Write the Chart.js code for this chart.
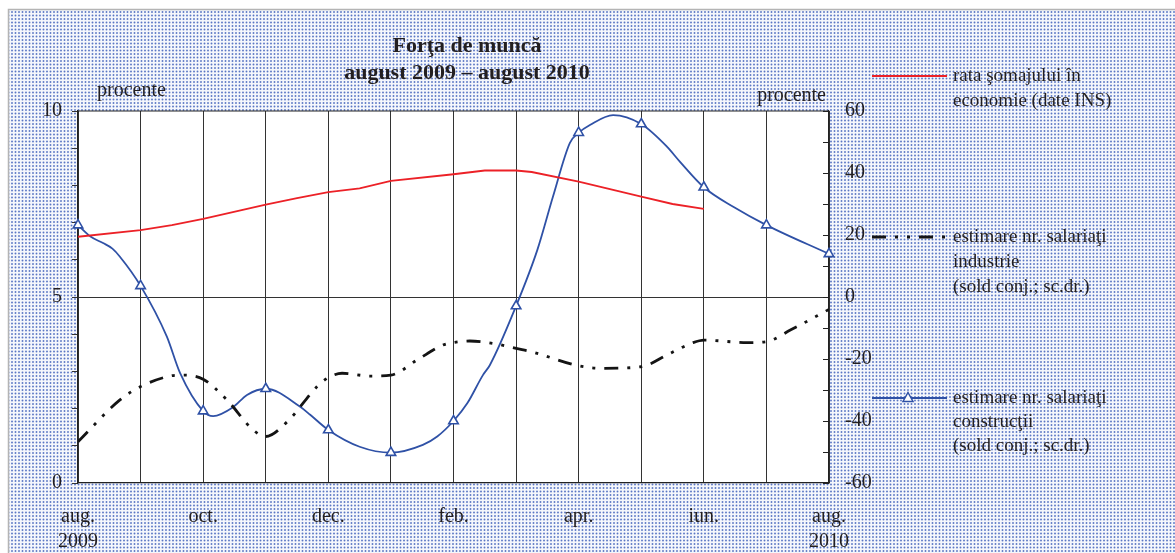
<!DOCTYPE html>
<html>
<head>
<meta charset="utf-8">
<script src="https://cdn.jsdelivr.net/npm/chart.js@4.4.1/dist/chart.umd.min.js"></script>
<style>
  html, body { margin: 0; padding: 0; background: #fff; }
  canvas { display: block; }
</style>
</head>
<body>
<canvas id="chart" width="1175" height="553"></canvas>
<script>
// months since aug. 2009 (0 = aug. 2009, 12 = aug. 2010)
const monthNames = ['aug.', 'sep.', 'oct.', 'nov.', 'dec.', 'ian.', 'feb.', 'mar.', 'apr.', 'mai', 'iun.', 'iul.', 'aug.']
const yearNames = { 0: '2009', 12: '2010' }

// rata somajului (left axis, %)
const somajMonths = [0, 1, 1.5, 2, 3, 3.5, 4, 4.5, 5, 6, 6.5, 7, 7.25, 8, 9, 9.5, 10]
const somajValues = [6.62, 6.8, 6.93, 7.1, 7.48, 7.66, 7.82, 7.92, 8.12, 8.3, 8.4, 8.4, 8.36, 8.1, 7.7, 7.5, 7.37]

// industrie (right axis, sold conjunctural)
const industrieMonths = [0, 0.67, 1, 1.47, 1.68, 2, 2.38, 2.8, 3, 3.34, 3.82, 4, 4.22, 4.67, 5, 5.42, 5.83, 6, 6.26, 6.69, 7, 7.27, 8, 8.39, 9, 9.41, 9.83, 10, 10.69, 11, 11.39, 12]
const industrieValues = [-46.7, -33.2, -28.9, -25.5, -25.2, -26.5, -33.2, -42.9, -45, -40.3, -28.9, -26, -24.6, -25.5, -25.2, -20.3, -15.5, -14.7, -14.2, -15.2, -16.6, -17.8, -22.2, -23, -22.5, -18.7, -14.7, -13.9, -14.7, -14.4, -10.6, -4]

// constructii (right axis, sold conjunctural)
const constructiiMonths = [0, 0.2, 0.4, 0.55, 0.67, 1, 1.42, 1.63, 2, 2.16, 2.48, 2.7, 3, 3.55, 3.71, 4, 4.5, 5, 5.51, 5.74, 6, 6.22, 6.47, 6.58, 7, 7.34, 7.59, 7.86, 8, 8.18, 8.55, 9, 9.41, 9.62, 10, 10.47, 11, 12]
const constructiiValues = [23.2, 19.5, 17.4, 15.6, 13, 3.6, -12.8, -24.5, -36.8, -38.4, -35.5, -31.6, -29.6, -35.4, -38, -42.9, -48.3, -50.2, -47.7, -45, -40, -34.3, -25.2, -22, -2.9, 15.2, 32.4, 49.7, 53, 55.5, 58.7, 55.8, 48.5, 43.6, 35.4, 29.1, 23.2, 13.9]

const RED = '#ec2127'
const BLUE = '#2f51a6'
const BLACK = '#141414'
const TEXT = '#231f20'
const SERIF = '"Liberation Serif", "Times New Roman", serif'
const DASH = [14, 9, 3, 9, 3, 9]

const toPoints = (xs, ys) => xs.map((x, i) => ({ x: x, y: ys[i] }))

function dotPattern(ctx) {
    const tile = document.createElement('canvas')
    tile.width = 7
    tile.height = 7
    const t = tile.getContext('2d')
    t.fillStyle = '#f5f7fc'
    t.fillRect(0, 0, 7, 7)
    t.fillStyle = '#5b77c4'
    for (const [px, py] of [[1.5, 1.5], [5, 1.5], [1.5, 5], [5, 5]]) {
        t.beginPath()
        t.arc(px, py, 0.95, 0, Math.PI * 2)
        t.fill()
    }
    return ctx.createPattern(tile, 'repeat')
}

function legendLine(ctx, y, color, width, dash) {
    ctx.save()
    ctx.strokeStyle = color
    ctx.lineWidth = width
    ctx.setLineDash(dash)
    ctx.beginPath()
    ctx.moveTo(872, y)
    ctx.lineTo(947, y)
    ctx.stroke()
    ctx.restore()
}

function textLines(ctx, lines, x, y, step) {
    lines.forEach((s, i) => ctx.fillText(s, x, y + i * step))
}

const decor = {
    id: 'decor',
    beforeDraw(chart) {
        const ctx = chart.ctx
        const a = chart.chartArea
        const W = chart.width, H = chart.height
        ctx.save()
        ctx.fillStyle = '#fff'
        ctx.fillRect(0, 0, W, H)
        ctx.fillStyle = dotPattern(ctx)
        ctx.fillRect(9, 10, W - 9, H - 10)
        ctx.strokeStyle = '#b4b4b4'
        ctx.lineWidth = 1.5
        ctx.beginPath()
        ctx.moveTo(8.5, H)
        ctx.lineTo(8.5, 9.5)
        ctx.lineTo(W, 9.5)
        ctx.stroke()
        ctx.fillStyle = '#fff'
        ctx.fillRect(a.left, a.top, a.right - a.left, a.bottom - a.top)
        ctx.restore()
    },
    beforeDatasetsDraw(chart) {
        const ctx = chart.ctx
        const a = chart.chartArea
        const y2 = chart.scales.y2
        ctx.save()
        ctx.strokeStyle = '#222'
        ctx.lineWidth = 1.2
        // top border
        ctx.beginPath()
        ctx.moveTo(a.left, a.top)
        ctx.lineTo(a.right, a.top)
        ctx.stroke()
        // right axis ticks, drawn inward
        ctx.lineWidth = 1
        y2.ticks.forEach(t => {
            const py = Math.round(y2.getPixelForValue(t.value)) + 0.5
            ctx.beginPath()
            ctx.moveTo(a.right - 6, py)
            ctx.lineTo(a.right, py)
            ctx.stroke()
        })
        ctx.restore()
    },
    afterDraw(chart) {
        const ctx = chart.ctx
        ctx.save()
        ctx.fillStyle = TEXT
        ctx.textBaseline = 'middle'

        // title
        ctx.font = 'bold 22px ' + SERIF
        ctx.textAlign = 'center'
        ctx.fillText('Forţa de muncă', 467, 46)
        ctx.fillText('august 2009 – august 2010', 467, 73)

        // unit labels
        ctx.font = '20px ' + SERIF
        ctx.textAlign = 'left'
        ctx.fillText('procente', 97, 91)
        ctx.textAlign = 'right'
        ctx.fillText('procente', 826, 96)

        // legend
        const ds = chart.data.datasets
        ctx.font = '19px ' + SERIF
        ctx.textAlign = 'left'
        legendLine(ctx, 76, ds[0].borderColor, ds[0].borderWidth, [])
        textLines(ctx, ['rata şomajului în', 'economie (date INS)'], 953, 76, 25)

        legendLine(ctx, 237, ds[1].borderColor, ds[1].borderWidth, DASH)
        textLines(ctx, ['estimare nr. salariaţi', 'industrie', '(sold conj.; sc.dr.)'], 953, 237, 25)

        legendLine(ctx, 398, ds[2].borderColor, ds[2].borderWidth, [])
        ctx.strokeStyle = ds[2].borderColor
        ctx.fillStyle = '#fff'
        ctx.lineWidth = 1.5
        ctx.beginPath()
        ctx.moveTo(908, 392.5)
        ctx.lineTo(913, 401.5)
        ctx.lineTo(903, 401.5)
        ctx.closePath()
        ctx.fill()
        ctx.stroke()
        ctx.fillStyle = TEXT
        textLines(ctx, ['estimare nr. salariaţi', 'construcţii', '(sold conj.; sc.dr.)'], 953, 398, 24)
        ctx.restore()
    }
}

new Chart(document.getElementById('chart'), {
    type: 'line',
    data: {
        datasets: [
            {
                label: 'rata şomajului în economie (date INS)',
                data: toPoints(somajMonths, somajValues),
                yAxisID: 'y',
                borderColor: RED,
                borderWidth: 1.8,
                pointRadius: 0,
                tension: 0
            },
            {
                label: 'estimare nr. salariaţi industrie (sold conj.; sc.dr.)',
                data: toPoints(industrieMonths, industrieValues),
                yAxisID: 'y2',
                borderColor: BLACK,
                borderWidth: 2.8,
                borderDash: DASH,
                pointRadius: 0,
                cubicInterpolationMode: 'monotone'
            },
            {
                label: 'estimare nr. salariaţi construcţii (sold conj.; sc.dr.)',
                data: toPoints(constructiiMonths, constructiiValues),
                yAxisID: 'y2',
                borderColor: BLUE,
                borderWidth: 1.8,
                cubicInterpolationMode: 'monotone',
                pointStyle: 'triangle',
                pointRadius: constructiiMonths.map(m => Number.isInteger(m) ? 5.5 : 0),
                pointBorderWidth: 1.6,
                pointBackgroundColor: '#fff',
                pointBorderColor: BLUE,
                clip: false
            }
        ]
    },
    options: {
        responsive: false,
        animation: false,
        events: [],
        layout: { padding: { left: 0, top: 111, right: 286, bottom: 0 } },
        plugins: {
            legend: { display: false },
            title: { display: false },
            tooltip: { enabled: false }
        },
        scales: {
            x: {
                type: 'linear',
                min: 0,
                max: 12,
                afterFit: s => { s.height = 70 },
                border: { display: true, color: '#222', width: 1.2 },
                grid: { color: '#333', lineWidth: 1, drawTicks: false },
                ticks: {
                    stepSize: 1,
                    padding: 21,
                    maxRotation: 0,
                    autoSkip: false,
                    color: TEXT,
                    font: { family: SERIF, size: 20, lineHeight: 1.25 },
                    callback: v => {
                        if (v % 2 !== 0) return ''
                        return yearNames[v] ? [monthNames[v], yearNames[v]] : monthNames[v]
                    }
                }
            },
            y: {
                position: 'left',
                min: 0,
                max: 10,
                afterFit: s => { s.width = 78 },
                border: { display: true, color: '#222', width: 1.2 },
                grid: {
                    color: c => c.tick.value === 5 ? '#333' : 'rgba(0,0,0,0)',
                    tickColor: '#333',
                    tickLength: 6,
                    lineWidth: 1
                },
                ticks: {
                    stepSize: 1,
                    padding: 10,
                    color: TEXT,
                    font: { family: SERIF, size: 20 },
                    callback: v => v % 5 === 0 ? v : ''
                }
            },
            y2: {
                position: 'right',
                min: -60,
                max: 60,
                afterFit: s => { s.width = 60 },
                border: { display: true, color: '#222', width: 1.2 },
                grid: { display: false, drawTicks: false },
                ticks: {
                    stepSize: 10,
                    padding: 16,
                    color: TEXT,
                    font: { family: SERIF, size: 20 },
                    callback: v => v % 20 === 0 ? v : ''
                }
            }
        }
    },
    plugins: [decor]
})
</script>
</body>
</html>
